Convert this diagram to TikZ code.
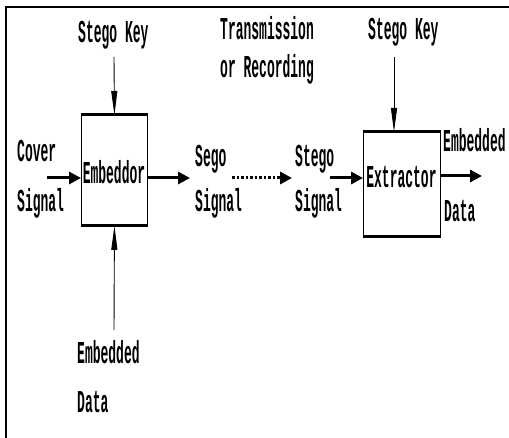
\documentclass[tikz,border=0pt]{standalone}
\usepackage{fontspec}
\setmainfont{Liberation Mono}
\usetikzlibrary{arrows.meta}
\newcommand{\tx}[1]{\scalebox{1}[2.45]{\bfseries #1}}
\tikzset{
  lbl/.style={inner sep=0pt, anchor=base west, font=\fontsize{13pt}{15pt}\selectfont},
  lblc/.style={inner sep=0pt, anchor=base, font=\fontsize{13pt}{15pt}\selectfont},
  blockbox/.style={draw, line width=0.9pt, inner sep=0pt, anchor=north west},
  thickarrow/.style={line width=3pt, -{Triangle[length=12pt,width=12pt]}},
  thinarrow/.style={line width=0.9pt, -{Triangle[length=24pt,width=6pt]}},
  dotarrow/.style={line width=3pt, dash pattern=on 2.5pt off 2pt, -{Triangle[length=12pt,width=12pt]}},
  thickedge/.style={line width=3pt}
}
\begin{document}
\begin{tikzpicture}[x=1pt,y=-1pt]
\useasboundingbox (0,0) rectangle (509,438);
% frame
\draw[line width=2.5pt] (6,438) -- (6,7) -- (509,7);
% boxes
\node[blockbox, minimum width=66pt, minimum height=110pt] (emb) at (81,115) {};
\node[blockbox, minimum width=77pt, minimum height=104pt] (ext) at (363,132) {};
\draw[thickedge] (emb.north west) -- (emb.north east);
\draw[thickedge] (emb.south west) -- (emb.south east);
\draw[thickedge] (ext.north west) -- (ext.north east);
\draw[thickedge] (ext.south west) -- (ext.south east);
\node[lblc] (embt) at (114,184) {\tx{Embeddor}};
\node[lblc] (extt) at (401.5,188) {\tx{Extractor}};
% labels
\node[lbl] (sk1) at (78,43) {\tx{Stego Key}};
\node[lbl] (tr1) at (220,40) {\tx{Transmission}};
\node[lbl] (tr2) at (220,78) {\tx{or Recording}};
\node[lbl] (sk2) at (368,40) {\tx{Stego Key}};
\node[lbl] (cov1) at (17,162) {\tx{Cover}};
\node[lbl] (cov2) at (17,212) {\tx{Signal}};
\node[lbl] (seg1) at (195,167) {\tx{Sego}};
\node[lbl] (seg2) at (195,212) {\tx{Signal}};
\node[lbl] (stg1) at (295,167) {\tx{Stego}};
\node[lbl] (stg2) at (295,212) {\tx{Signal}};
\node[lbl] (out1) at (443,152) {\tx{Embedded}};
\node[lbl] (out2) at (444,222) {\tx{Data}};
\node[lbl] (ed1) at (77,363) {\tx{Embedded}};
\node[lbl] (ed2) at (77,413) {\tx{Data}};
% connector end points
\coordinate (k1) at (114,57);
\coordinate (k2) at (394,57);
\coordinate (d1) at (114,330);
\coordinate (c1) at (47,178);
\coordinate (c2) at (190,178);
\coordinate (t1) at (232,178);
\coordinate (t2) at (292,178);
\coordinate (s1) at (330,178);
\coordinate (o1) at (482,176);
% connectors
\draw[thinarrow] (k1) -- (emb.north);
\draw[thinarrow] (d1) -- (emb.south);
\draw[thinarrow] (k2) -- (ext.north -| k2);
\draw[thickarrow] (c1) -- (emb.west |- c1);
\draw[thickarrow] (emb.east |- c2) -- (c2);
\draw[dotarrow] (t1) -- (t2);
\draw[thickarrow] (s1) -- (ext.west |- s1);
\draw[thickarrow] (ext.east |- o1) -- (o1);
\end{tikzpicture}
\end{document}
